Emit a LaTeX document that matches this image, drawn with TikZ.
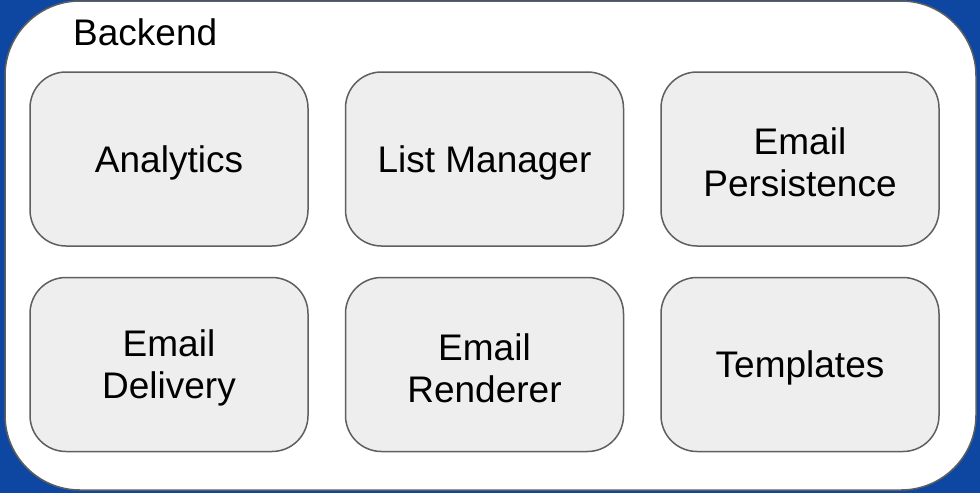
\documentclass[tikz,border=0pt]{standalone}
\usepackage{fontspec}
\setmainfont{Liberation Sans}
\usepackage{xcolor}
\usetikzlibrary{positioning}
\definecolor{bgblue}{HTML}{0D47A1}
\definecolor{boxfill}{HTML}{EEEEEE}
\definecolor{boxline}{HTML}{5F5F5F}

\begin{document}
\begin{tikzpicture}[x=1pt,y=1pt,
  service/.style={draw=boxline,fill=boxfill,line width=1.5pt,rounded corners=36pt,
    minimum width=278pt,minimum height=174pt},
  servicetext/.style={align=center,font=\fontsize{37}{42}\selectfont,yshift=-3.5pt},
  node distance=30pt and 36pt
]
% blue backdrop and the white backend panel
\fill[bgblue] (0,0) rectangle (980,-493);
\draw[draw=boxline,fill=white,line width=1.5pt,rounded corners=75pt] (5,-1) rectangle (976,-490);
\node[anchor=base west,inner sep=0pt,font=\fontsize{37}{42}\selectfont] (title) at (73,-45) {Backend};
% services
\node[service] (analytics) at (169,-159) {};
\node[service,right=of analytics] (lists) {};
\node[service,right=of lists] (persist) {};
\node[service,below=of analytics] (delivery) {};
\node[service,right=of delivery] (render) {};
\node[service,right=of render] (templates) {};
% service names
\node[servicetext] (analytics-t) at (analytics) {Analytics};
\node[servicetext] (lists-t) at (lists) {List Manager};
\node[servicetext] (persist-t) at (persist) {Email\\Persistence};
\node[servicetext] (delivery-t) at (delivery) {Email\\Delivery};
\node[servicetext] (render-t) at (render) {Email\\Renderer};
\node[servicetext] (templates-t) at (templates) {Templates};
\end{tikzpicture}
\end{document}
